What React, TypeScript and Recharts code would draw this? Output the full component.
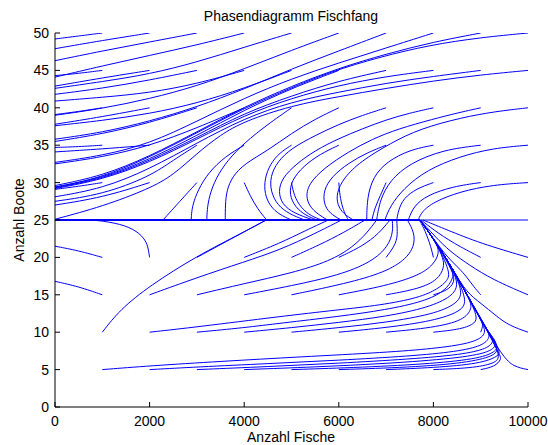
import React from 'react';
import { LineChart, Line, XAxis, YAxis } from 'recharts';

type Pt = [number, number];

const xTicks = [0, 2000, 4000, 6000, 8000, 10000];
const yTicks = [0, 5, 10, 15, 20, 25, 30, 35, 40, 45, 50];

const titleText = 'Phasendiagramm Fischfang';
const xLabel = 'Anzahl Fische';
const yLabel = 'Anzahl Boote';

// trajectories running off to the left axis (fish collapse)
const upperLeft: Pt[][] = [
  [[1000, 50], [500, 49.6], [0, 49.2]],
  [[2000, 50], [1000, 49.0], [0, 47.9]],
  [[3000, 50], [2000, 48.8], [1000, 47.6], [0, 46.3]],
  [[4000, 50], [3000, 48.4], [2000, 47.0], [1000, 45.6], [0, 44.1]],
  [[1000, 45], [500, 44.6], [0, 44.3]],
  [[5000, 50], [4000, 48.1], [3000, 46.1], [2000, 44.5], [1000, 43.5], [0, 42.6]],
  [[2000, 45], [1000, 44.0], [0, 42.9]],
  [[3000, 45], [2000, 43.7], [1000, 42.6], [0, 41.8]],
  [[4000, 45], [3000, 43.2], [2000, 42.0], [1000, 41.4], [0, 40.9]],
  [[6000, 50], [5000, 47.7], [4000, 45.2], [3000, 42.9], [2000, 41.2], [1000, 39.9], [0, 39.0]],
  [[1000, 40], [500, 39.5], [0, 39.1]],
  [[5000, 45], [4000, 42.6], [3000, 40.6], [2000, 39.2], [1000, 38.3], [0, 37.6]],
  [[2000, 40], [1000, 38.8], [0, 37.8]],
  [[7000, 50], [6000, 47.6], [5000, 45.2], [4000, 42.5], [3000, 40.1], [2000, 38.2], [1000, 36.7], [0, 35.8]],
  [[3000, 40], [2000, 38.0], [1000, 36.5], [0, 35.5]],
  [[1000, 35], [500, 34.8], [0, 34.7]],
  [[2000, 35], [1000, 34.5], [0, 34.1]],
  [[8000, 50], [7000, 48.0], [6000, 46.0], [5000, 43.9], [4000, 41.3], [3000, 38.2], [2000, 35.2], [1000, 33.6], [0, 32.7]],
  [[4000, 40], [3000, 37.3], [2000, 34.9], [1000, 33.4], [0, 32.5]],
];

// the dense bundle ending near 29 and the ones below it
const upperBundle: Pt[][] = [
  [[9000, 50], [8000, 48.8], [7000, 47.2], [6000, 45.3], [5000, 42.9], [4000, 40.1], [3000, 36.8], [2000, 33.5], [1000, 30.9], [0, 29.6]],
  [[10000, 50], [9000, 49.4], [7928, 48.4], [6871, 46.8], [5814, 44.8], [4968, 42.6], [3981, 39.9], [2924, 36.4], [1939, 33.2], [951, 30.6], [0, 29.4]],
  [[6000, 45], [5000, 42.6], [4000, 39.7], [3000, 36.3], [2000, 33.1], [1000, 30.6], [0, 29.4]],
  [[7000, 45], [6000, 43.6], [5000, 41.6], [4000, 39.3], [3000, 36.0], [2000, 32.9], [1000, 30.5], [0, 29.3]],
  [[8000, 45], [7000, 44.2], [6000, 43.0], [5000, 41.3], [4000, 39.0], [3000, 35.8], [2000, 32.7], [1000, 30.4], [0, 29.2]],
  [[1000, 30], [500, 29.5], [0, 29.1]],
  [[9000, 45], [8000, 44.2], [7000, 43.3], [6000, 42.1], [5000, 40.8], [4000, 38.6], [3000, 35.3], [2000, 31.8], [1000, 29.2], [0, 28.1]],
  [[3000, 35], [2500, 33.0], [2000, 30.8], [1000, 28.4], [0, 27.5]],
  [[2000, 30], [1000, 28.0], [0, 27.0]],
  [[10000, 45], [9000, 44.4], [8000, 43.6], [7000, 42.6], [6000, 41.5], [5000, 40.3], [4000, 38.2], [3500, 36.4], [3000, 33.9], [2500, 31.0], [2000, 29.2], [1000, 26.8], [0, 25.1]],
];

const separatrix: Pt[][] = [
  [[3000, 30], [2640, 27.5], [2283, 25]],
];

// C-shaped trajectories that settle onto the 25-boat line
const cCurves: Pt[][] = [
  [[4000, 35], [3600, 33.5], [3250, 31.4], [3020, 29], [2910, 27], [2885, 25.8], [2880, 25]],
  [[5000, 40], [4500, 37.8], [4000, 35.3], [3650, 33], [3400, 30.6], [3260, 28.2], [3215, 26.3], [3210, 25]],
  [[6000, 40], [5500, 38.5], [5000, 36.6], [4500, 34.3], [4000, 32.5], [3750, 30.8], [3630, 29], [3600, 27], [3600, 25]],
  [[4000, 30], [4120, 28.3], [4280, 26.5], [4475, 25]],
  [[5000, 35], [4750, 34], [4550, 32.5], [4430, 30.5], [4430, 28.5], [4550, 26.8], [4750, 25.7], [5000, 25]],
  [[7000, 40], [6500, 39], [6000, 37.8], [5500, 36.3], [5000, 34.6], [4700, 32.8], [4550, 30.8], [4560, 28.8], [4700, 27], [4950, 25.8], [5280, 25]],
  [[8000, 40], [7500, 39.3], [7000, 38.4], [6500, 37.2], [6000, 35.9], [5500, 34.3], [5100, 32.5], [4800, 30.6], [4720, 28.8], [4800, 27.1], [5050, 25.9], [5460, 25]],
  [[6000, 35], [5600, 33.8], [5250, 32.2], [5000, 30.3], [4950, 28.4], [5080, 26.7], [5300, 25.6], [5540, 25]],
  [[9000, 40], [8500, 39.3], [8000, 38.5], [7260, 37.2], [6700, 35.8], [6200, 34.1], [5700, 32], [5350, 29.8], [5300, 27.8], [5450, 26.2], [5760, 25]],
  [[5000, 30], [5050, 28.3], [5200, 26.6], [5420, 25.5], [5640, 25]],
  [[7000, 35], [6600, 34], [6200, 32.6], [5850, 30.8], [5680, 29], [5680, 27.2], [5800, 25.9], [6050, 25]],
  [[10000, 40], [9300, 39.5], [8600, 38.7], [7715, 37.2], [7100, 35.3], [6450, 32.8], [6100, 30.6], [5950, 28.6], [5970, 27], [6100, 25.8], [6310, 25]],
  [[6000, 30], [6020, 28.3], [6080, 26.6], [6150, 25.6], [6200, 25]],
  [[8000, 35], [7505, 34.4], [7012, 32.8], [6730, 30.8], [6600, 28.1], [6590, 25]],
  [[7000, 30], [6880, 28.3], [6760, 26.6], [6700, 25]],
  [[9000, 35], [8210, 34.4], [7505, 32.6], [7082, 30.3], [6870, 27.7], [6800, 25]],
  [[10000, 35], [9260, 34.6], [8560, 33.5], [7860, 31.7], [7365, 29.2], [7080, 26.8], [6975, 25]],
  [[8000, 30], [7645, 29.2], [7365, 27.9], [7260, 26.3], [7225, 25]],
  [[9000, 30], [8420, 29.5], [7860, 28.3], [7575, 26.8], [7470, 25]],
  [[10000, 30], [9260, 29.7], [8560, 28.8], [8000, 27.4], [7750, 26.1], [7680, 25]],
];

const lowerLeft: Pt[][] = [
  [[1000, 20], [500, 20.9], [0, 21.5]],
  [[1000, 15], [500, 16.1], [0, 16.8]],
  [[2000, 20], [1975, 21], [1940, 22], [1800, 23.2], [1500, 24.3], [1000, 24.9], [700, 25]],
  [[1000, 10], [1370, 13], [2000, 16.2], [3000, 20.2], [4000, 23.4], [4465, 25]],
];

// trajectories from below that reach the 25-boat line directly
const toLine25: Pt[][] = [
  [[3000, 20], [3700, 22.4], [4465, 25]],
  [[4000, 20], [4757, 21.9], [5300, 23.6], [5780, 25]],
  [[5000, 20], [5600, 21.7], [6100, 23.3], [6554, 25]],
  [[6000, 20], [6500, 21.5], [6850, 23.2], [7082, 25]],
  [[7000, 20], [7225, 21.9], [7240, 23.5], [7225, 25]],
  [[8000, 20], [7928, 21.9], [7787, 24.1], [7700, 25]],
  [[9000, 20], [8420, 21.9], [8000, 23.7], [7740, 25]],
  [[10000, 20], [8985, 21.9], [8280, 23.7], [7780, 25]],
  [[2000, 15], [3000, 17.3], [4000, 19.4], [4757, 21], [5500, 23.2], [6060, 25]],
  [[3000, 15], [4000, 16.5], [5000, 17.9], [5814, 19.5], [6300, 21.4], [6600, 23.3], [6800, 25]],
  [[4000, 15], [5000, 16.2], [6000, 17.6], [6700, 19.4], [7050, 21.5], [7150, 23.5], [7130, 25]],
  [[5000, 15], [6000, 16.3], [6900, 17.8], [7400, 19.6], [7600, 21.5], [7600, 23.3], [7450, 25]],
];

// the diagonal the lower trajectories climb along
const diag: Pt[] = [[9450, 6.2], [9408, 6.9], [9127, 10.3], [8774, 14.3], [8420, 18.3], [8070, 21.9], [7717, 25]];

const row5: Pt[][] = [
  [[1000, 5], [2000, 5.5], [3500, 6.1], [5180, 6.7], [7000, 7.3], [8000, 7.8], [8800, 8.5], [9120, 9.6], [9060, 11]],
  [[2000, 5], [3000, 5.35], [4500, 5.8], [6000, 6.25], [7500, 6.8], [8500, 7.4], [9050, 8.2], [9200, 9.3], [9150, 10.3]],
  [[3000, 5], [4500, 5.4], [6000, 5.85], [7500, 6.4], [8600, 7], [9150, 7.8], [9280, 8.8], [9220, 9.6]],
  [[4000, 5], [5500, 5.35], [7000, 5.8], [8500, 6.5], [9200, 7.3], [9330, 8.3], [9300, 9]],
  [[5000, 5], [6500, 5.3], [8000, 5.8], [9000, 6.5], [9350, 7.5], [9360, 8.4]],
  [[6000, 5], [7500, 5.3], [8700, 5.9], [9280, 6.8], [9400, 7.8]],
  [[7000, 5], [8000, 5.25], [9000, 5.8], [9380, 6.8], [9420, 7.5]],
  [[8000, 5], [8800, 5.2], [9300, 5.8], [9440, 6.8]],
  [[9000, 5], [9300, 5.4], [9440, 6.4]],
  [[10000, 5], [9690, 5.4], [9480, 6.7]],
];

const row10: Pt[][] = [
  [[2000, 10], [3000, 10.7], [4757, 12.1], [6000, 13.0], [6871, 13.6], [7700, 14.6], [8100, 15.8], [8300, 16.9], [8360, 18.0]],
  [[3000, 10], [4000, 10.6], [4757, 11.2], [6000, 12.1], [7000, 13.0], [7800, 14.1], [8250, 15.5], [8420, 17.2]],
  [[4000, 10], [5000, 10.6], [6000, 11.3], [7000, 12.1], [7900, 13.3], [8400, 14.8], [8530, 16.3]],
  [[5000, 10], [6000, 10.6], [7000, 11.3], [8000, 12.4], [8500, 13.8], [8630, 15.3]],
  [[6000, 10], [7000, 10.6], [8000, 11.5], [8600, 12.8], [8720, 14.3]],
  [[7000, 10], [8000, 10.6], [8650, 11.6], [8820, 13.2]],
  [[8000, 10], [8600, 10.4], [8900, 11.2], [8920, 12.2]],
  [[9000, 10], [9060, 11.0], [8990, 11.8]],
  [[10000, 10], [9600, 10.9], [9340, 12.1], [9000, 13.9], [8700, 15.3]],
];

const row15: Pt[][] = [
  [[6000, 15], [7000, 16.2], [7700, 17.6], [8000, 19.0], [8130, 20.6]],
  [[7000, 15], [7700, 15.8], [8100, 17.0], [8230, 18.7], [8210, 19.8]],
  [[8000, 15], [8350, 15.7], [8470, 17.1], [8360, 18.6]],
  [[9000, 15], [8850, 16.1], [8703, 17.4], [8550, 18.5], [8300, 20]],
  [[10000, 15], [9260, 17], [8750, 19], [8400, 20.6], [8150, 22]],
];

const line25Main: Pt[] = [[0, 25], [7717, 25]];
const line25Right: Pt[] = [[7717, 25], [10000, 25]];

const FONT = '"Liberation Sans", Arial, Helvetica, sans-serif';
const BLUE = '#0000ff';

const toObj = (p: Pt[]) => p.map(([x, y]) => ({ x, y }));
const joinDiag = (p: Pt[]): Pt[] => {
  const lastY = p[p.length - 1][1];
  return [...p, ...diag.filter((d) => d[1] > lastY + 0.4)];
};

type Series = { data: { x: number; y: number }[]; w: number };
const series: Series[] = [
  ...upperLeft.map((p) => ({ data: toObj(p), w: 1 })),
  ...upperBundle.map((p) => ({ data: toObj(p), w: 1 })),
  ...separatrix.map((p) => ({ data: toObj(p), w: 1 })),
  ...cCurves.map((p) => ({ data: toObj(p), w: 1 })),
  ...lowerLeft.map((p) => ({ data: toObj(p), w: 1 })),
  ...toLine25.map((p) => ({ data: toObj(p), w: 1 })),
  ...row5.map((p) => ({ data: toObj(joinDiag(p)), w: 1 })),
  ...row10.map((p) => ({ data: toObj(joinDiag(p)), w: 1 })),
  ...row15.map((p) => ({ data: toObj(joinDiag(p)), w: 1 })),
  { data: toObj(line25Main), w: 2 },
  { data: toObj(line25Right), w: 1.2 },
];

const XTick = (props: any) => {
  const { x, y, payload } = props;
  return (
    <g>
      <line x1={x} y1={y} x2={x} y2={y - 5} stroke="#000" strokeWidth={1} />
      <text x={x} y={y + 19} textAnchor="middle" fontSize={14} fontFamily={FONT} fill="#000">
        {payload.value}
      </text>
    </g>
  );
};

const YTick = (props: any) => {
  const { x, y, payload } = props;
  return (
    <g>
      <line x1={x} y1={y} x2={x + 5} y2={y} stroke="#000" strokeWidth={1} />
      <text x={x - 6} y={y + 5} textAnchor="end" fontSize={14} fontFamily={FONT} fill="#000">
        {payload.value}
      </text>
    </g>
  );
};

export default function App() {
  return (
    <div style={{ position: 'absolute', left: 0, top: 0, width: 548, height: 445, background: '#fff' }}>
      <LineChart width={548} height={445} margin={{ top: 33, right: 20, bottom: 0, left: 0 }}>
        <XAxis
          type="number"
          dataKey="x"
          domain={[0, 10000]}
          ticks={xTicks}
          interval={0}
          allowDataOverflow
          height={38}
          tickSize={0}
          tickMargin={0}
          tickLine={false}
          axisLine={{ stroke: '#000', strokeWidth: 1 }}
          tick={(p: any) => <XTick {...p} />}
        />
        <YAxis
          type="number"
          domain={[0, 50]}
          ticks={yTicks}
          interval={0}
          allowDataOverflow
          width={55}
          tickSize={0}
          tickMargin={0}
          tickLine={false}
          axisLine={{ stroke: '#000', strokeWidth: 1 }}
          tick={(p: any) => <YTick {...p} />}
        />
        {series.map((s, i) => (
          <Line
            key={'s' + i}
            data={s.data}
            dataKey="y"
            type="basis"
            stroke={BLUE}
            strokeWidth={s.w}
            dot={false}
            activeDot={false}
            isAnimationActive={false}
            legendType="none"
          />
        ))}
      </LineChart>
      <svg width={548} height={445} style={{ position: 'absolute', left: 0, top: 0, pointerEvents: 'none' }}>
        <text x={291} y={21} textAnchor="middle" fontSize={14} fontFamily={FONT} fill="#000">
          {titleText}
        </text>
        <text x={291} y={442} textAnchor="middle" fontSize={14} fontFamily={FONT} fill="#000">
          {xLabel}
        </text>
        <text
          x={24}
          y={220}
          textAnchor="middle"
          fontSize={14}
          fontFamily={FONT}
          fill="#000"
          transform="rotate(-90 24 220)"
        >
          {yLabel}
        </text>
      </svg>
    </div>
  );
}
